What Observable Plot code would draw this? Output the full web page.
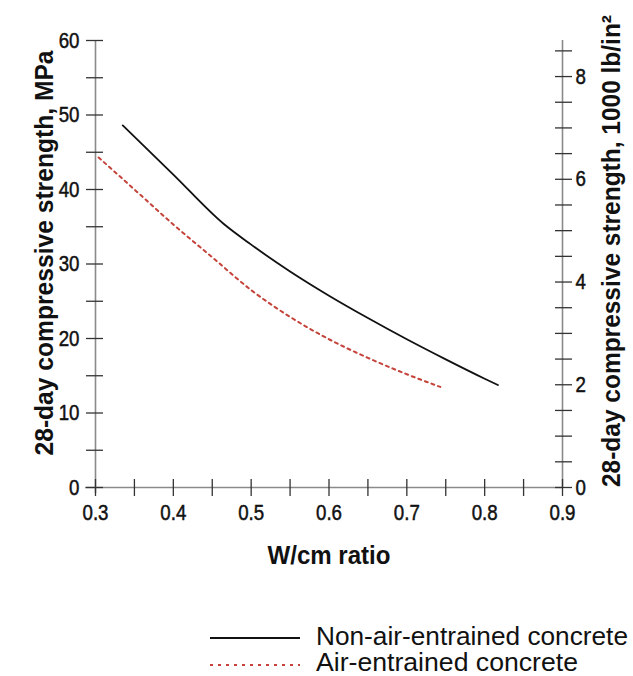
<!DOCTYPE html>
<html>
<head>
<meta charset="utf-8">
<script src="https://cdn.jsdelivr.net/npm/d3@7"></script>
<script src="https://cdn.jsdelivr.net/npm/@observablehq/plot@0.6"></script>
<style>
  html, body { margin: 0; padding: 0; background: #fff; }
  body { width: 633px; height: 676px; overflow: hidden; font-family: "Liberation Sans", Arial, sans-serif; }
  svg { display: block; }
</style>
</head>
<body>
<div id="chart"></div>
<div id="legend"></div>
<script>
// W/cm ratio and 28-day compressive strength (MPa)
const ratioNonAir = [0.335, 0.4, 0.4645, 0.5, 0.55, 0.6, 0.65, 0.7, 0.75, 0.8, 0.817];
const strengthNonAir = [48.6, 42.0, 35.4, 32.6, 29.0, 25.75, 22.75, 19.9, 17.2, 14.6, 13.75];
const ratioAir = [0.304, 0.35, 0.4, 0.45, 0.5, 0.55, 0.6, 0.65, 0.7, 0.743];
const strengthAir = [44.3, 40.0, 35.3, 30.9, 26.5, 22.9, 19.9, 17.4, 15.2, 13.5];

const seriesNames = ["Non-air-entrained concrete", "Air-entrained concrete"];
const seriesColors = ["#111111", "#c4433a"];

const xTicksMajor = [0.3, 0.4, 0.5, 0.6, 0.7, 0.8, 0.9];
const xTicksMinor = [0.3, 0.35, 0.4, 0.45, 0.5, 0.55, 0.6, 0.65, 0.7, 0.75, 0.8, 0.85, 0.9];
const yTicksMajor = [0, 10, 20, 30, 40, 50, 60];
const yTicksMinor = [0, 5, 10, 15, 20, 25, 30, 35, 40, 45, 50, 55, 60];
const psiTicksMajor = [0, 2, 4, 6, 8];
const psiTicksMinor = [0, 0.5, 1, 1.5, 2, 2.5, 3, 3.5, 4, 4.5, 5, 5.5, 6, 6.5, 7, 7.5, 8, 8.5];
const MPA_PER_KSI = 6.895;

const leftTitle = "28-day compressive strength, MPa";
const rightTitle = "28-day compressive strength, 1000 lb/in\u00B2";
const xTitle = "W/cm ratio";

const nonAir = ratioNonAir.map((r, i) => ({r, s: strengthNonAir[i]}));
const air = ratioAir.map((r, i) => ({r, s: strengthAir[i]}));

const font = '"Liberation Sans", Arial, sans-serif';
const tickColor = "#333";
const axisColor = "#8a8a8a";

const chart = Plot.plot({
  width: 633,
  height: 606,
  marginLeft: 95,
  marginRight: 71,
  marginTop: 40,
  marginBottom: 119,
  style: {fontFamily: font, fontSize: "22px", color: "#111", background: "#fff", overflow: "visible"},
  x: {domain: [0.3, 0.9]},
  y: {domain: [0, 60]},
  marks: [
    // axis lines
    Plot.ruleX([0.3], {stroke: axisColor, strokeWidth: 1.6, insetBottom: -6}),
    Plot.ruleX([0.9], {stroke: axisColor, strokeWidth: 1.6}),
    Plot.ruleY([0], {stroke: axisColor, strokeWidth: 1.6, insetLeft: -10}),
    // left axis ticks (crossing the axis line)
    Plot.axisY(yTicksMinor, {anchor: "left", tickSize: 17, dx: 8, tickFormat: () => "", label: null, stroke: tickColor, strokeWidth: 1.3}),
    Plot.axisY(yTicksMajor, {anchor: "left", tickSize: 0, tickPadding: 16, label: null, fontSize: 22}),
    // right axis (1000 lb/in²)
    Plot.axisY(psiTicksMinor.map(k => k * MPA_PER_KSI), {anchor: "right", tickSize: 17, dx: -8, tickFormat: () => "", label: null, stroke: tickColor, strokeWidth: 1.3}),
    Plot.axisY(psiTicksMajor.map(k => k * MPA_PER_KSI), {anchor: "right", tickSize: 0, tickPadding: 13, label: null, fontSize: 22, tickFormat: d => String(Math.round(d / MPA_PER_KSI))}),
    // x axis
    Plot.axisX(xTicksMinor, {anchor: "bottom", tickSize: 17, dy: -8, tickFormat: () => "", label: null, stroke: tickColor, strokeWidth: 1.3}),
    Plot.axisX(xTicksMajor, {anchor: "bottom", tickSize: 0, tickPadding: 17, label: null, fontSize: 22, tickFormat: d => d.toFixed(1)}),
    // titles
    Plot.text([leftTitle], {frameAnchor: "left", textAnchor: "middle", lineAnchor: "middle", rotate: -90, dx: -51, dy: -11, fontSize: 26, fontWeight: "bold", fill: "#111"}),
    Plot.text([rightTitle], {frameAnchor: "right", textAnchor: "middle", lineAnchor: "middle", rotate: -90, dx: 49, dy: -13, fontSize: 25, fontWeight: "bold", fill: "#111"}),
    Plot.text([xTitle], {frameAnchor: "bottom", textAnchor: "middle", lineAnchor: "bottom", dy: 76, fontSize: 25, fontWeight: "bold", fill: "#111"}),
    // data
    Plot.line(nonAir, {x: "r", y: "s", stroke: seriesColors[0], strokeWidth: 1.8, curve: "monotone-x"}),
    Plot.line(air, {x: "r", y: "s", stroke: seriesColors[1], strokeWidth: 2, strokeDasharray: "3,4", curve: "monotone-x"})
  ]
});
document.getElementById("chart").appendChild(chart);

// condensed look: squeeze each text to a target length
const titleLengths = new Map([[leftTitle, 405], [rightTitle, 472], [xTitle, 123]]);
d3.select(chart).selectAll("text").each(function() {
  const t = this.textContent;
  if (!t) return;
  if (!titleLengths.has(t)) {
    this.style.fontSize = "22px";
    this.style.stroke = "#111";
    this.style.strokeWidth = "0.5px";
    this.style.fill = "#111";
  }
  const natural = this.getComputedTextLength();
  const target = titleLengths.has(t) ? titleLengths.get(t) : natural * 0.85;
  this.setAttribute("textLength", target);
  this.setAttribute("lengthAdjust", "spacingAndGlyphs");
});

// legend
const leg = d3.select("#legend").append("svg").attr("width", 633).attr("height", 70)
  .style("font-family", font);
const legendRows = [
  {y: 32, base: 39, len: 312},
  {y: 59, base: 65, len: 262}
];
seriesNames.forEach((name, i) => {
  leg.append("line").attr("x1", 210).attr("x2", 300)
    .attr("y1", legendRows[i].y).attr("y2", legendRows[i].y)
    .attr("stroke", seriesColors[i]).attr("stroke-width", i === 0 ? 1.8 : 2)
    .attr("stroke-dasharray", i === 0 ? null : "3,5");
  leg.append("text").attr("x", 316).attr("y", legendRows[i].base)
    .attr("font-size", 25).attr("fill", "#111")
    .attr("textLength", legendRows[i].len).attr("lengthAdjust", "spacingAndGlyphs")
    .text(name);
});
</script>
</body>
</html>
